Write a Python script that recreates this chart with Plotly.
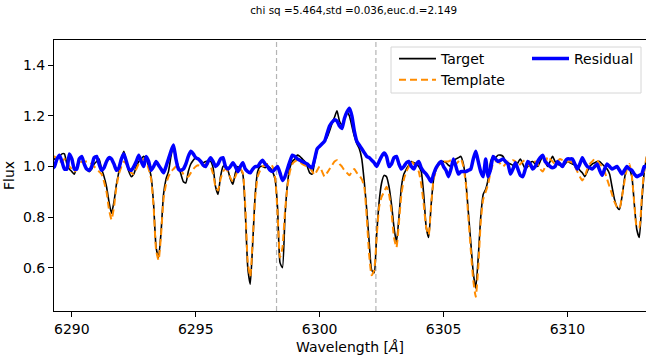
import numpy as np
import plotly.graph_objects as go

# Spectra sampled every 0.1 Angstrom starting at 6289.2
wl_start = 6289.2
wl_step = 0.1

target_flux = [
    1.02, 1.03, 1.03, 1.04, 1.05, 1.05, 1.01, 0.99, 0.98, 0.97,
    1.00, 1.03, 1.04, 1.01, 0.99, 0.98, 0.99, 1.01, 1.02, 1.03,
    0.99, 0.96, 0.92, 0.86, 0.815, 0.86, 0.93, 0.98, 1.03, 1.06,
    1.02, 0.98, 0.96, 0.97, 1.00, 1.02, 1.03, 1.04, 1.03, 1.00,
    0.96, 0.85, 0.68, 0.64, 0.74, 0.89, 0.95, 0.98, 1.04, 1.085,
    1.03, 1.00, 0.97, 0.94, 0.935, 0.98, 1.01, 1.025, 1.035, 1.03,
    1.02, 1.015, 1.02, 1.02, 1.02, 0.995, 0.92, 0.89, 0.96, 1.00,
    1.005, 0.985, 0.95, 0.93, 0.975, 1.00, 0.99, 0.97, 0.82, 0.60,
    0.535, 0.70, 0.89, 0.98, 1.00, 1.00, 0.995, 1.00, 0.995, 0.98,
    0.95, 0.84, 0.62, 0.60, 0.80, 0.93, 0.995, 1.02, 1.03, 1.045,
    1.04, 1.03, 1.02, 1.00, 0.975, 0.97, 1.02, 1.065, 1.08, 1.09,
    1.10, 1.115, 1.14, 1.17, 1.195, 1.22, 1.18, 1.165, 1.19, 1.215,
    1.20, 1.16, 1.12, 1.09, 1.07, 1.03, 0.94, 0.83, 0.70, 0.59,
    0.58, 0.73, 0.86, 0.935, 0.965, 0.96, 0.92, 0.85, 0.76, 0.70,
    0.80, 0.92, 0.97, 0.99, 1.005, 1.02, 1.015, 1.01, 1.00, 0.98,
    0.89, 0.76, 0.72, 0.85, 0.95, 0.99, 1.015, 1.02, 1.02, 1.015,
    1.005, 1.00, 1.015, 1.03, 1.035, 1.04, 1.01, 0.94, 0.82, 0.70,
    0.58, 0.52, 0.64, 0.80, 0.89, 0.91, 0.95, 1.02, 1.04, 1.035,
    1.045, 1.045, 1.04, 1.02, 1.015, 1.01, 1.005, 1.00, 1.015, 1.03,
    1.01, 0.99, 1.00, 1.015, 1.02, 1.01, 1.00, 1.02, 1.04, 1.02,
    1.00, 1.02, 1.04, 1.02, 1.01, 1.005, 1.00, 1.01, 1.02, 1.015,
    1.01, 1.005, 1.00, 0.985, 0.975, 0.96, 0.98, 1.00, 1.01, 1.015,
    1.02, 1.02, 1.01, 1.00, 0.99, 0.97, 0.92, 0.87, 0.84, 0.83,
    0.88, 0.95, 1.00, 0.99, 0.96, 0.85, 0.75, 0.72, 0.86, 0.98,
    1.04,
]

template_flux = [
    1.03, 1.04, 1.03, 1.02, 1.02, 1.03, 1.02, 1.00, 0.99, 0.98,
    0.99, 1.01, 1.02, 1.02, 1.02, 1.02, 1.01, 1.00, 0.99, 0.98,
    0.97, 0.94, 0.90, 0.83, 0.79, 0.84, 0.92, 0.97, 1.00, 1.02,
    1.01, 0.99, 0.975, 0.97, 0.99, 1.01, 1.02, 1.03, 1.02, 0.99,
    0.95, 0.84, 0.67, 0.63, 0.73, 0.87, 0.93, 0.96, 0.98, 0.99,
    1.00, 1.00, 0.99, 0.97, 0.96, 0.96, 0.975, 0.99, 1.00, 1.005,
    1.00, 1.00, 1.01, 1.01, 1.00, 0.97, 0.92, 0.905, 0.95, 0.98,
    0.99, 0.98, 0.955, 0.94, 0.96, 0.985, 0.99, 0.975, 0.84, 0.62,
    0.565, 0.71, 0.88, 0.96, 0.985, 1.00, 1.005, 1.01, 1.01, 1.00,
    0.96, 0.82, 0.64, 0.68, 0.82, 0.92, 0.98, 1.01, 1.02, 1.025,
    1.02, 1.01, 1.005, 1.00, 0.995, 0.98, 0.967, 0.985, 1.00, 0.98,
    0.96, 0.975, 0.99, 1.005, 1.02, 1.025, 1.01, 1.00, 0.985, 0.975,
    0.965, 0.98, 0.99, 0.975, 0.965, 0.95, 0.92, 0.80, 0.65, 0.57,
    0.59, 0.72, 0.84, 0.88, 0.90, 0.92, 0.89, 0.82, 0.72, 0.68,
    0.78, 0.89, 0.95, 0.98, 1.00, 1.02, 1.01, 1.00, 0.98, 0.93,
    0.85, 0.76, 0.73, 0.85, 0.95, 0.985, 1.005, 1.015, 1.02, 1.02,
    1.02, 1.025, 1.02, 1.01, 1.02, 1.03, 1.00, 0.93, 0.80, 0.67,
    0.55, 0.485, 0.60, 0.78, 0.87, 0.90, 0.93, 0.98, 1.01, 1.02,
    1.02, 1.01, 1.00, 1.01, 1.02, 1.02, 1.025, 1.02, 1.00, 1.01,
    1.02, 1.025, 1.01, 1.00, 1.015, 1.02, 1.01, 0.99, 0.98, 1.00,
    1.04, 1.03, 1.02, 1.01, 1.02, 1.03, 1.025, 1.02, 1.02, 1.02,
    1.015, 1.00, 0.98, 0.96, 0.945, 0.96, 0.99, 1.01, 1.02, 1.03,
    1.025, 1.01, 1.00, 0.98, 0.95, 0.92, 0.89, 0.86, 0.84, 0.835,
    0.88, 0.94, 0.99, 1.01, 0.96, 0.85, 0.76, 0.76, 0.88, 0.99,
    1.04,
]

residual_flux = [
    0.99, 1.00, 1.03, 1.045, 1.02, 0.99, 0.99, 1.05, 1.03, 0.99,
    0.99, 1.03, 1.04, 1.01, 0.99, 0.985, 1.00, 1.035, 1.04, 1.01,
    0.985, 0.995, 1.02, 1.035, 1.03, 1.01, 0.985, 0.995, 1.03, 1.05,
    1.02, 0.99, 0.985, 1.00, 1.02, 1.045, 1.02, 1.00, 1.04, 1.02,
    0.985, 1.00, 1.02, 1.005, 0.99, 0.975, 1.00, 1.03, 1.06, 1.085,
    1.03, 0.99, 0.985, 0.99, 1.01, 1.04, 1.06, 1.05, 1.035, 1.03,
    1.02, 1.005, 1.00, 1.02, 1.035, 1.02, 1.00, 1.01, 1.03, 1.035,
    1.00, 0.99, 1.00, 1.015, 1.00, 0.98, 1.00, 1.015, 0.99, 0.98,
    0.975, 0.99, 1.00, 1.00, 1.015, 1.025, 1.01, 1.00, 0.985, 0.98,
    0.99, 1.00, 0.975, 0.945, 0.96, 0.99, 1.02, 1.045, 1.04, 1.03,
    1.025, 1.02, 1.015, 1.01, 1.00, 0.995, 1.03, 1.07, 1.08, 1.09,
    1.10, 1.13, 1.16, 1.175, 1.185, 1.18, 1.16, 1.15, 1.19, 1.215,
    1.23, 1.20, 1.14, 1.10, 1.085, 1.07, 1.055, 1.04, 1.035, 1.025,
    1.015, 1.00, 1.02, 1.04, 1.053, 1.04, 1.00, 1.01, 1.035, 1.04,
    1.01, 0.99, 1.00, 1.015, 1.02, 1.00, 0.99, 1.01, 1.02, 0.995,
    0.98, 0.97, 0.955, 0.94, 0.97, 0.995, 1.01, 1.02, 1.00, 0.985,
    0.96, 0.99, 1.03, 1.00, 0.97, 0.98, 0.98, 0.98, 0.985, 0.99,
    1.03, 1.06, 1.02, 0.98, 0.96, 1.03, 0.96, 0.99, 1.04, 1.03,
    1.02, 1.025, 1.03, 1.02, 1.01, 0.97, 0.99, 1.015, 0.99, 0.965,
    0.96, 0.99, 1.02, 1.01, 0.99, 1.00, 1.02, 1.035, 1.045, 1.02,
    1.01, 1.00, 0.995, 1.00, 1.02, 1.01, 1.00, 1.02, 1.03, 1.03,
    1.03, 1.01, 0.99, 1.01, 1.035, 1.015, 1.00, 0.995, 0.99, 1.00,
    1.01, 0.985, 0.965, 0.99, 1.01, 1.00, 0.99, 0.995, 1.00, 0.985,
    0.97, 0.985, 1.00, 0.99, 0.985, 0.97, 0.96, 0.965, 0.97, 1.00,
    1.00,
]

# Wavelengths bounding the highlighted window
window_edges = [6298.26, 6302.27]

x_ticks = [6290, 6295, 6300, 6305, 6310]
y_ticks = [0.6, 0.8, 1.0, 1.2, 1.4]

title_text = "chi sq =5.464,std =0.036,euc.d.=2.149"


def grid(n):
    return np.round(wl_start + wl_step * np.arange(n), 2)


FONT = "DejaVu Sans"
W, H = 646, 363
L, R, T, B = 54, 0, 40, 52
PW, PH = W - L - R, H - T - B


def px(xp):
    return (xp - L) / PW


def py(yp):
    return 1 - (yp - T) / PH


fig = go.Figure()
fig.add_trace(go.Scatter(x=grid(len(target_flux)), y=target_flux, mode="lines",
                         name="Target",
                         line=dict(color="black", width=1.6, shape="spline", smoothing=0.5),
                         legend="legend"))
fig.add_trace(go.Scatter(x=grid(len(template_flux)), y=template_flux, mode="lines",
                         name="Template",
                         line=dict(color="#ff8c00", width=2, dash="7px,4px",
                                   shape="spline", smoothing=0.5),
                         legend="legend"))
fig.add_trace(go.Scatter(x=grid(len(residual_flux)), y=residual_flux, mode="lines",
                         name="Residual",
                         line=dict(color="#0000ff", width=3.5, shape="spline", smoothing=0.5),
                         legend="legend2"))

for edge in window_edges:
    fig.add_shape(type="line", xref="x", yref="paper", x0=edge, x1=edge, y0=0, y1=1,
                  line=dict(color="#b4b4b4", width=1.2, dash="5px,3px"), layer="below")

# legend frame
fig.add_shape(type="rect", xref="paper", yref="paper",
              x0=px(391), x1=px(641), y0=py(93), y1=py(47),
              line=dict(color="#d6d6d6", width=1), fillcolor="rgba(255,255,255,0.8)",
              layer="above")

axis_common = dict(showgrid=False, zeroline=False, showline=True, linecolor="black",
                   linewidth=1, ticks="outside", ticklen=5, tickwidth=1,
                   tickcolor="black", tickfont=dict(family=FONT, size=14, color="black"))

fig.update_layout(
    width=W, height=H,
    margin=dict(l=L, r=R, t=T, b=B, autoexpand=False),
    paper_bgcolor="white", plot_bgcolor="white",
    font=dict(family=FONT, size=14, color="black"),
    title=dict(text=title_text, x=327 / W, xanchor="center", xref="paper",
               y=1 - 10 / H, yanchor="middle", yref="container",
               font=dict(family=FONT, size=10.4, color="black")),
    xaxis=dict(range=[6289.28, 6313.17], tickvals=x_ticks,
               ticktext=[str(v) for v in x_ticks], mirror=True,
               title=dict(text="Wavelength [<i>Å</i>]", standoff=6,
                          font=dict(family=FONT, size=14)),
               **axis_common),
    yaxis=dict(range=[0.429, 1.5], tickvals=y_ticks,
               ticktext=[f"{v:.1f}" for v in y_ticks], mirror=False,
               title=dict(text="Flux", standoff=5, font=dict(family=FONT, size=14)),
               **axis_common),
    showlegend=True,
    legend=dict(x=px(394), y=py(43), xanchor="left", yanchor="top",
                bgcolor="rgba(0,0,0,0)", borderwidth=0, tracegroupgap=0,
                itemwidth=37,
                font=dict(family=FONT, size=14, color="black")),
    legend2=dict(x=px(527), y=py(43), xanchor="left", yanchor="top",
                 bgcolor="rgba(0,0,0,0)", borderwidth=0, itemwidth=37,
                 font=dict(family=FONT, size=14, color="black")),
)

fig.write_html("out.html")
